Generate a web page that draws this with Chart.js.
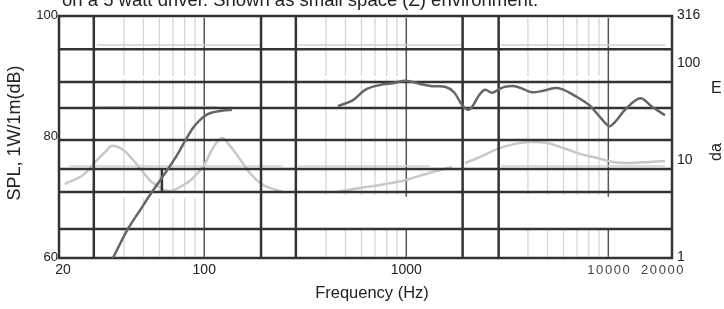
<!DOCTYPE html>
<html>
<head>
<meta charset="utf-8">
<script src="https://cdn.jsdelivr.net/npm/chart.js@4/dist/chart.umd.min.js"></script>
<style>
  html, body { margin: 0; padding: 0; background: #fff; }
</style>
</head>
<body>
<canvas id="spl" width="724" height="309"></canvas>
<script>
// SPL response, 1W/1m (dB)
const splLowHz = [35.3, 41.9, 48.1, 55.1, 66.1, 73.3, 80.2, 87.9, 95.2, 104.3, 119.6, 137.1];
const splLowDb = [60, 64.8, 67.9, 70.9, 74.7, 77.0, 79.3, 81.5, 82.8, 83.8, 84.3, 84.5];
const splHighHz = [459, 545, 625, 741, 860, 997, 1156, 1340, 1556, 1722, 1887, 2022, 2117, 2292, 2455, 2657, 2877, 3082, 3452, 3872, 4190, 4695, 5446, 5899, 6842, 8030, 9100, 10090, 10800, 12100, 14360, 16450, 19080];
const splHighDb = [85.1, 86.1, 87.8, 88.6, 88.9, 89.3, 88.8, 88.4, 88.3, 87.4, 85.3, 84.5, 85, 86.9, 87.8, 87.3, 87.9, 88.3, 88.4, 87.8, 87.4, 87.6, 88.1, 87.9, 86.8, 85.3, 83.3, 81.8, 82.5, 84.5, 86.4, 85, 83.6];

// impedance curves (right axis)
const impLowHz = [20.4, 25.1, 29.5, 32.6, 34.9, 39.6, 44.4, 49.7, 55.7, 66.3, 75.8, 86.9, 99.7, 110.4, 122.4, 134.1, 145.2, 168.4, 195.4, 245.4];
const impLowZ = [5.81, 7.2, 10.3, 12.7, 14.4, 13.1, 10.3, 7.74, 5.95, 4.92, 5.41, 6.55, 9.14, 13.7, 17.4, 14.4, 11.6, 7.55, 5.68, 4.81];
const impMidHz = [454, 590, 741, 900, 999, 1297, 1686];
const impMidZ = [4.81, 5.29, 5.68, 6.1, 6.4, 7.55, 8.71];
const impHighHz = [1953, 2317, 2911, 3455, 4100, 4977, 5970, 7250, 8795, 10550, 12800, 16070, 19090];
const impHighZ = [9.58, 11.05, 13.7, 15.1, 15.8, 15.4, 13.7, 11.9, 10.8, 9.82, 9.58, 9.82, 10.05];

// axes and grid
const xTickValues = [20, 100, 1000, 10000, 20000];
const xTickLabels = ['20', '100', '1000', '10000', '20000'];
const leftTickValues = [60, 80, 100];
const rightTickValues = [1, 10, 100, 316];
const minorHz = [40, 50, 60, 70, 80, 90, 400, 500, 600, 700, 800, 900, 4000, 5000, 6000, 7000, 8000, 9000];
const decadeHz = [100, 1000, 10000];
const heavyHz = [28.4, 191, 284, 1900, 2865];
const heavyDb = [94.5, 89.1, 84.8, 79.5, 74.7, 70.9, 64.8];
// light reference lines: level and [from, to] frequency spans
const refDb = [95.2, 85, 75.2];
const refSpans = [
  [[29.4, 193], [291, 1910], [2943, 19080]],
  [[29.4, 115.6]],
  [[21.4, 245.4], [291, 1310], [2943, 19080]]
];

const pts = (xs, ys) => xs.map((x, i) => ({ x: x, y: ys[i] }));
const FONT = '"Liberation Sans", Arial, sans-serif';

function line(ctx, x1, y1, x2, y2) {
  ctx.beginPath();
  ctx.moveTo(x1, y1);
  ctx.lineTo(x2, y2);
  ctx.stroke();
}

const sheet = {
  id: 'sheet',
  beforeDatasetsDraw(chart) {
    const { ctx, scales: { x, yL } } = chart;
    ctx.save();
    // light minor verticals, broken into blocks like the scan
    ctx.strokeStyle = '#d6d6d6';
    ctx.lineWidth = 1.3;
    minorHz.forEach(f => {
      const px = x.getPixelForValue(f);
      const segs = f < 100
        ? [[99.7, 90.1], [89.6, 70.9], [69.9, 60.2]]
        : [[99.7, 90.1], [89.6, 70.4], [64.8, 60.2]];
      segs.forEach(s => line(ctx, px, yL.getPixelForValue(s[0]), px, yL.getPixelForValue(s[1])));
    });
    // decade lines
    ctx.strokeStyle = '#555';
    ctx.lineWidth = 1.5;
    decadeHz.forEach(f => {
      const px = x.getPixelForValue(f);
      const segs = f === 100 ? [[99.7, 60.2]] : [[99.7, 70.1], [64.8, 60.2]];
      segs.forEach(s => line(ctx, px, yL.getPixelForValue(s[0]), px, yL.getPixelForValue(s[1])));
    });
    // light reference levels
    ctx.strokeStyle = '#d0d0d0';
    ctx.lineWidth = 1.5;
    refDb.forEach((db, i) => {
      const py = yL.getPixelForValue(db);
      refSpans[i].forEach(s => line(ctx, x.getPixelForValue(s[0]), py, x.getPixelForValue(s[1]), py));
    });
    ctx.restore();
  },
  afterDatasetDraw(chart, args) {
    if (args.index !== 2) return;
    const { ctx, chartArea: a, scales: { x, yL } } = chart;
    ctx.save();
    ctx.strokeStyle = '#333';
    ctx.lineWidth = 2.5;
    heavyDb.forEach(db => {
      const py = yL.getPixelForValue(db);
      line(ctx, a.left, py, a.right, py);
    });
    heavyHz.forEach(f => {
      const px = x.getPixelForValue(f);
      line(ctx, px, a.top, px, a.bottom);
    });
    const sx = x.getPixelForValue(61.7);
    line(ctx, sx, yL.getPixelForValue(74.7), sx, yL.getPixelForValue(70.9));
    ctx.strokeRect(a.left, a.top, a.right - a.left, a.bottom - a.top);
    ctx.restore();
  },
  afterDraw(chart) {
    const { ctx, chartArea: a, scales: { x, yL, yR } } = chart;
    ctx.save();
    ctx.fillStyle = '#222';

    // title, cut off at the top of the picture
    ctx.font = '18.5px ' + FONT;
    ctx.textAlign = 'left';
    ctx.textBaseline = 'alphabetic';
    ctx.fillText('on a 5 watt driver. Shown as small space (Z) environment.', 62, 6);

    // left ticks
    ctx.font = '13px ' + FONT;
    ctx.textAlign = 'right';
    ctx.textBaseline = 'middle';
    leftTickValues.forEach(v => ctx.fillText(String(v), a.left - 1, yL.getPixelForValue(v) - 1));

    // right ticks
    ctx.font = '14px ' + FONT;
    ctx.textAlign = 'left';
    rightTickValues.forEach(v => ctx.fillText(String(v), a.right + 5, yR.getPixelForValue(v) - 1));

    // bottom ticks
    xTickValues.forEach((v, i) => {
      const px = x.getPixelForValue(v);
      if (v >= 10000) {
        ctx.font = '13px ' + FONT;
        ctx.letterSpacing = '1.6px';
        ctx.fillStyle = '#444';
        ctx.textAlign = v === 20000 ? 'right' : 'center';
        ctx.fillText(xTickLabels[i], v === 20000 ? px + 16 : px + 1, a.bottom + 12);
      } else {
        ctx.font = '14px ' + FONT;
        ctx.letterSpacing = '0px';
        ctx.fillStyle = '#222';
        ctx.textAlign = 'center';
        ctx.fillText(xTickLabels[i], px, a.bottom + 12);
      }
    });
    ctx.letterSpacing = '0px';
    ctx.fillStyle = '#222';

    // axis titles
    ctx.font = '16.5px ' + FONT;
    ctx.textAlign = 'center';
    ctx.fillText('Frequency (Hz)', 372, 293);
    ctx.save();
    ctx.translate(15, 133);
    ctx.rotate(-Math.PI / 2);
    ctx.font = '18px ' + FONT;
    ctx.fillText('SPL, 1W/1m(dB)', 0, 0);
    ctx.restore();
    ctx.font = '16px ' + FONT;
    ctx.textAlign = 'left';
    ctx.fillText('E', 711, 89);
    ctx.save();
    ctx.translate(717, 152);
    ctx.rotate(-Math.PI / 2);
    ctx.textAlign = 'center';
    ctx.fillText('da', 0, 0);
    ctx.restore();
    ctx.restore();
  }
};

const dark = { borderColor: '#666', borderWidth: 2.5, pointRadius: 0, tension: 0.35, fill: false, yAxisID: 'yL' };
const light = { borderColor: '#c8c8c8', borderWidth: 2.5, pointRadius: 0, tension: 0.35, fill: false, yAxisID: 'yR' };

new Chart(document.getElementById('spl'), {
  type: 'line',
  data: {
    datasets: [
      { ...dark, label: 'SPL low', data: pts(splLowHz, splLowDb) },
      { ...dark, label: 'SPL high', data: pts(splHighHz, splHighDb) },
      { ...light, label: 'Z low', data: pts(impLowHz, impLowZ) },
      { ...light, label: 'Z mid', data: pts(impMidHz, impMidZ) },
      { ...light, label: 'Z high', data: pts(impHighHz, impHighZ) }
    ]
  },
  options: {
    responsive: false,
    animation: false,
    devicePixelRatio: 1,
    layout: { padding: { top: 16, left: 0, right: 0, bottom: 0 } },
    plugins: { legend: { display: false }, tooltip: { enabled: false } },
    scales: {
      x: {
        type: 'logarithmic', min: 19.1, max: 20660,
        grid: { display: false }, border: { display: false }, ticks: { display: false },
        afterFit: s => { s.height = 51; }
      },
      yL: {
        type: 'linear', position: 'left', min: 60, max: 100,
        grid: { display: false }, border: { display: false }, ticks: { display: false },
        afterFit: s => { s.width = 59; }
      },
      yR: {
        type: 'logarithmic', position: 'right', min: 1, max: 316,
        grid: { display: false }, border: { display: false }, ticks: { display: false },
        afterFit: s => { s.width = 52; }
      }
    }
  },
  plugins: [sheet]
});
</script>
</body>
</html>
